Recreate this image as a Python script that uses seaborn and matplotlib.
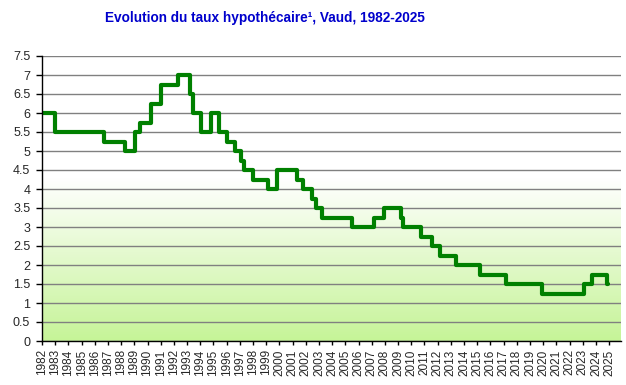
import numpy as np
import pandas as pd
import seaborn as sns
import matplotlib.pyplot as plt
from matplotlib.colors import LinearSegmentedColormap

# dates (fraction of year) where the rate changes, and the new rate
change_dates = [1982.0, 1983.0, 1986.7, 1988.3, 1989.05, 1989.4, 1990.3, 1991.06,
                1992.3, 1993.25, 1993.45, 1994.05, 1994.85, 1995.4, 1996.0, 1996.6,
                1997.1, 1997.35, 1998.0, 1999.1, 1999.8, 2001.3, 2001.8, 2002.5,
                2002.8, 2003.2, 2005.5, 2007.2, 2007.9, 2009.2, 2009.4, 2010.7,
                2011.6, 2012.2, 2013.4, 2015.2, 2017.2, 2019.9, 2023.1, 2023.7,
                2024.85, 2024.95]
rates = [6.0, 5.5, 5.25, 5.0, 5.5, 5.75, 6.25, 6.75,
         7.0, 6.5, 6.0, 5.5, 6.0, 5.5, 5.25, 5.0,
         4.75, 4.5, 4.25, 4.0, 4.5, 4.25, 4.0, 3.75,
         3.5, 3.25, 3.0, 3.25, 3.5, 3.25, 3.0, 2.75,
         2.5, 2.25, 2.0, 1.75, 1.5, 1.25, 1.5, 1.75,
         1.5, 1.5]
years = list(range(1982, 2026))
y_ticks = [i * 0.5 for i in range(16)]

df = pd.DataFrame({"date": change_dates, "taux": rates})

sns.set_style("white")
plt.rcParams["font.family"] = ["Liberation Sans", "DejaVu Sans"]

fig = plt.figure(figsize=(6.26, 3.85), dpi=100)
ax = fig.add_axes([42 / 626, 1 - 341 / 385, 579 / 626, 285 / 385])

x_max = 2025.9
# background gradient: white at the top, light green at the bottom
yy = np.linspace(7.5, 0, 300)
shade = np.clip((4.3 - yy) / 4.3, 0, 1).reshape(-1, 1)
cmap = LinearSegmentedColormap.from_list("bg", ["#ffffff", "#c6f498"])
ax.imshow(shade, cmap=cmap, vmin=0, vmax=1, aspect="auto",
          extent=[1982, x_max, 0, 7.5], zorder=0)

sns.lineplot(data=df, x="date", y="taux", ax=ax, color="#008000",
             linewidth=3, drawstyle="steps-post", zorder=3)

ax.set_xlim(1982, x_max)
ax.set_ylim(0, 7.5)
ax.set_yticks(y_ticks)
ax.set_yticklabels([f"{v:g}" for v in y_ticks], fontsize=9)
ax.set_xticks(years)
ax.set_xticklabels([str(y) for y in years], rotation=90, fontsize=8.5)
ax.yaxis.grid(True, color="#808080", linewidth=1)
ax.set_axisbelow(False)
for line in ax.get_ygridlines():
    line.set_zorder(1)
ax.tick_params(axis="y", direction="out", length=4.5, width=1, color="black",
               left=True, pad=4)
ax.tick_params(axis="x", direction="out", length=3, width=1, color="black",
               bottom=True, pad=3)
for side in ["top", "right"]:
    ax.spines[side].set_visible(False)
for side in ["left", "bottom"]:
    ax.spines[side].set_color("black")
    ax.spines[side].set_linewidth(1)
    ax.spines[side].set_zorder(4)
ax.set_xlabel("")
ax.set_ylabel("")

fig.text(265 / 626, 1 - 18 / 385, "Evolution du taux hypothécaire¹, Vaud, 1982-2025",
         ha="center", va="center", fontsize=9.8, fontweight="bold", color="#0000cc")

fig.savefig("out.png", dpi=100)
